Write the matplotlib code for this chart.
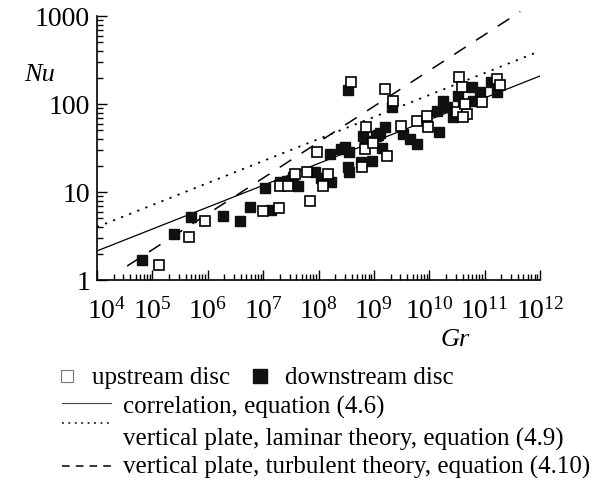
import matplotlib
matplotlib.use("Agg")
import matplotlib.pyplot as plt
from matplotlib.lines import Line2D
from matplotlib.ticker import LogLocator, NullFormatter
from matplotlib.transforms import ScaledTranslation

plt.rcParams.update({
    "font.family": ["Liberation Serif", "DejaVu Serif"],
    "mathtext.fontset": "custom",
    "mathtext.rm": "Liberation Serif",
    "mathtext.it": "Liberation Serif:italic",
})

# upstream disc (open squares)
up_gr = [1.3e5, 4.6e5, 8.9e5, 1.0e7, 1.9e7, 6.9e7, 2.0e7, 2.8e7, 3.7e7, 6.2e7,
         9.3e7, 1.2e8, 1.5e8, 3.8e8, 6.0e8, 6.9e8, 7.2e8, 9.5e8, 1.6e9, 1.7e9,
         2.2e9, 3.1e9, 6.0e9, 9.1e9, 9.5e9, 3.2e10, 3.4e10, 3.9e10, 4.8e10,
         4.1e10, 4.4e10, 8.9e10, 1.7e11, 1.9e11]
up_nu = [1.48, 3.1, 4.7, 6.1, 6.6, 7.9, 11.7, 11.7, 16.0, 16.9,
         28.5, 11.7, 16.0, 178, 19.2, 30.8, 54.8, 36, 148, 25.7,
         108, 56, 64, 73, 55, 81, 203, 156, 77,
         71, 100, 105, 192, 164]

# downstream disc (filled squares)
down_gr = [6.5e4, 2.5e5, 5.0e5, 1.9e6, 3.8e6, 5.8e6, 1.4e7, 1.1e7, 2.0e7, 2.7e7,
           3.5e7, 4.3e7, 8.5e7, 1.1e8, 1.7e8, 1.6e8, 2.5e8, 3.0e8, 3.5e8, 3.4e8,
           3.5e8, 5.9e8, 9.1e8, 6.9e8, 1.1e9, 1.3e9, 1.4e9, 3.4e8, 2.1e9, 1.6e9,
           3.3e9, 4.5e9, 6.0e9, 1.5e10, 1.8e10, 1.4e10, 2.1e10, 2.7e10, 3.3e10,
           4.1e10, 5.9e10, 8.1e10, 6.2e10, 1.3e11, 1.7e11, 1.2e9, 6.3e8]
down_nu = [1.69, 3.33, 5.2, 5.3, 4.7, 6.8, 6.2, 11.1, 13.0, 13.4,
           14.8, 11.7, 16.9, 14.4, 13.0, 27, 30.8, 32.5, 28.5, 19.2,
           16.9, 21.9, 22.5, 38, 43, 46.9, 31.6, 144, 92, 55,
           45.6, 40, 35, 48, 108, 83, 92, 71, 124,
           95, 156, 137, 108, 178, 137, 44, 43]

# reference lines (end points)
corr_gr, corr_nu = [1e4, 1e12], [2.14, 208]
lam_gr, lam_nu = [1e4, 1e12], [4.0, 400]
turb_gr, turb_nu = [3.5e4, 4.4e11], [1.44, 1120]

x_ticks = [1e4, 1e5, 1e6, 1e7, 1e8, 1e9, 1e10, 1e11, 1e12]
x_labels = [r"$\mathregular{10^{%d}}$" % n for n in range(4, 13)]
y_ticks = [1, 10, 100, 1000]
y_labels = ["1", "10", "100", "1000"]

W, H = 608, 489
fig = plt.figure(figsize=(W / 100, H / 100), dpi=100)
ax = fig.add_axes([97 / W, 1 - 281 / H, (540 - 97) / W, (281 - 17) / H])


def px(x, y):
    return x / W, 1 - y / H


ax.plot(corr_gr, corr_nu, color="black", lw=0.9)
ax.plot(lam_gr, lam_nu, color="black", lw=1.3, linestyle=(0, (1.2, 3.6)))
ax.plot(turb_gr, turb_nu, color="black", lw=1.1, linestyle=(0, (9, 8)),
        clip_on=False)

ax.plot(down_gr, down_nu, "s", ms=6.5, mfc="#111111", mec="#111111", mew=1,
        linestyle="none", clip_on=False)
ax.plot(up_gr, up_nu, "s", ms=6.5, mfc="white", mec="black", mew=1.2,
        linestyle="none", clip_on=False)

ax.set_xscale("log")
ax.set_yscale("log")
ax.set_xlim(1e4, 1e12)
ax.set_ylim(1, 1000)
ax.set_xticks(x_ticks)
ax.set_xticklabels(x_labels)
ax.set_yticks(y_ticks)
ax.set_yticklabels(y_labels)
for axis in (ax.xaxis, ax.yaxis):
    axis.set_minor_locator(LogLocator(base=10, subs=range(2, 10), numticks=100))
    axis.set_minor_formatter(NullFormatter())
ax.tick_params(which="both", direction="in", width=1, labelsize=20)
ax.tick_params(which="major", length=7)
ax.tick_params(which="minor", length=4)
ax.tick_params(axis="x", pad=12)
ax.tick_params(axis="y", pad=5)
for s in ["top", "right"]:
    ax.spines[s].set_visible(False)
for s in ["left", "bottom"]:
    ax.spines[s].set_linewidth(1.2)

# first x label sits a bit right of the axis corner
lbl = ax.get_xticklabels()[0]
lbl.set_transform(lbl.get_transform() + ScaledTranslation(10 / 100, 0, fig.dpi_scale_trans))

fig.text(*px(40, 75), "Nu", fontsize=19, style="italic", ha="center", va="center")
fig.text(*px(455, 340), "Gr", fontsize=19, style="italic", ha="center", va="center")

# legend block below the axes
fs = 18
fig.add_artist(Line2D([px(67, 0)[0]], [px(0, 377)[1]], marker="s", ms=9,
                      mfc="white", mec="#777777", mew=0.8, linestyle="none"))
fig.text(*px(92, 378), "upstream disc", fontsize=fs, va="center")
fig.add_artist(Line2D([px(260, 0)[0]], [px(0, 377)[1]], marker="s", ms=10,
                      mfc="#111111", mec="#111111", linestyle="none"))
fig.text(*px(285, 378), "downstream disc", fontsize=fs, va="center")

x0, x1 = px(62, 0)[0], px(111, 0)[0]
fig.add_artist(Line2D([x0, x1], [px(0, 404)[1]] * 2, color="#444444", lw=0.8))
fig.text(*px(123, 407), "correlation, equation (4.6)", fontsize=fs, va="center")
fig.add_artist(Line2D([x0, x1], [px(0, 424)[1]] * 2, color="black", lw=1.1,
                      linestyle=(0, (1.2, 3))))
fig.text(*px(123, 439), "vertical plate, laminar theory, equation (4.9)",
         fontsize=fs, va="center")
fig.add_artist(Line2D([x0, x1], [px(0, 467)[1]] * 2, color="black", lw=1.1,
                      linestyle=(0, (5, 4))))
fig.text(*px(123, 467), "vertical plate, turbulent theory, equation (4.10)",
         fontsize=fs, va="center")

fig.savefig("out.png", dpi=100)
